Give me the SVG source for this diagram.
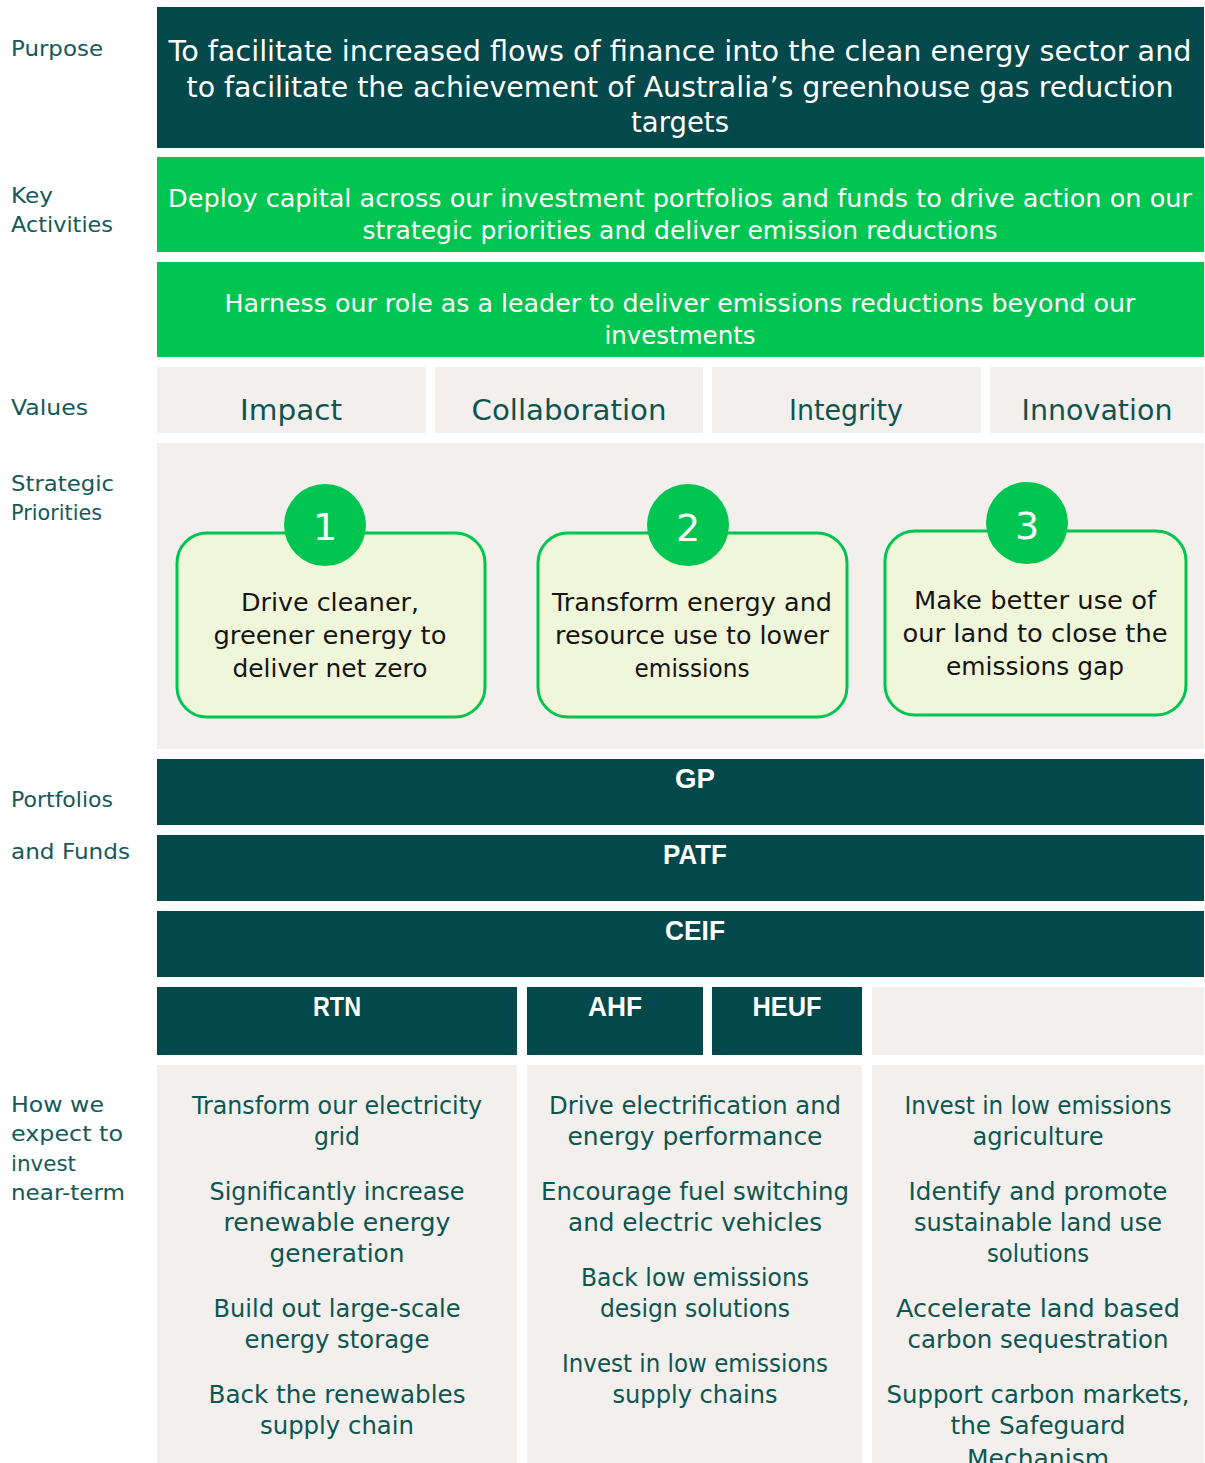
<svg xmlns="http://www.w3.org/2000/svg" width="1205" height="1463" viewBox="0 0 1205 1463">
  <style>
    text { font-family: "DejaVu Sans", "Liberation Sans", sans-serif; }
    .dark { fill: #03484A; }
    .green { fill: #00C551; }
    .pale { fill: #F2EFEC; }
    .side { fill: #15595A; font-size: 22px; }
    .white { fill: #FFFFFF; text-anchor: middle; }
    .purpose { font-size: 29px; }
    .activity { font-size: 25px; }
    .value { fill: #0E5450; font-size: 28px; text-anchor: middle; }
    .card { fill: #F0F6DA; stroke: #00C551; stroke-width: 3; }
    .cardtext { fill: #151515; font-size: 25px; text-anchor: middle; }
    .num { fill: #FFFFFF; font-size: 38px; text-anchor: middle; }
    .fund { fill: #FFFFFF; font-family: "Liberation Sans", "DejaVu Sans", sans-serif; font-weight: bold; font-size: 28px; text-anchor: middle; }
    .invest { fill: #0C5652; font-size: 25px; text-anchor: middle; }
  </style>

  <rect width="1205" height="1463" fill="#FFFFFF"/>

  <!-- Row labels -->
  <g id="labels">
    <text class="side" x="11" y="56" textLength="92" lengthAdjust="spacingAndGlyphs">Purpose</text>
    <text class="side" x="11" y="203" textLength="42" lengthAdjust="spacingAndGlyphs">Key</text>
    <text class="side" x="11" y="232" textLength="102" lengthAdjust="spacingAndGlyphs">Activities</text>
    <text class="side" x="11" y="415" textLength="77" lengthAdjust="spacingAndGlyphs">Values</text>
    <text class="side" x="11" y="491" textLength="103" lengthAdjust="spacingAndGlyphs">Strategic</text>
    <text class="side" x="11" y="520" textLength="91" lengthAdjust="spacingAndGlyphs">Priorities</text>
    <text class="side" x="11" y="807" textLength="102" lengthAdjust="spacingAndGlyphs">Portfolios</text>
    <text class="side" x="11" y="859" textLength="119" lengthAdjust="spacingAndGlyphs">and Funds</text>
    <text class="side" x="11" y="1112" textLength="93" lengthAdjust="spacingAndGlyphs">How we</text>
    <text class="side" x="11" y="1141" textLength="112" lengthAdjust="spacingAndGlyphs">expect to</text>
    <text class="side" x="11" y="1171" textLength="65" lengthAdjust="spacingAndGlyphs">invest</text>
    <text class="side" x="11" y="1200" textLength="114" lengthAdjust="spacingAndGlyphs">near-term</text>
  </g>

  <!-- Purpose -->
  <g id="purpose">
    <rect class="dark" x="157" y="7" width="1047" height="141"/>
    <text class="white purpose" x="680" y="61" textLength="1023" lengthAdjust="spacingAndGlyphs">To facilitate increased flows of finance into the clean energy sector and</text>
    <text class="white purpose" x="680" y="97" textLength="987" lengthAdjust="spacingAndGlyphs">to facilitate the achievement of Australia’s greenhouse gas reduction</text>
    <text class="white purpose" x="680" y="132" textLength="98" lengthAdjust="spacingAndGlyphs">targets</text>
  </g>

  <!-- Key activities -->
  <g id="activity-deploy">
    <rect class="green" x="157" y="157" width="1047" height="95"/>
    <text class="white activity" x="680" y="207" textLength="1024" lengthAdjust="spacingAndGlyphs">Deploy capital across our investment portfolios and funds to drive action on our</text>
    <text class="white activity" x="680" y="239" textLength="635" lengthAdjust="spacingAndGlyphs">strategic priorities and deliver emission reductions</text>
  </g>
  <g id="activity-lead">
    <rect class="green" x="157" y="262" width="1047" height="95"/>
    <text class="white activity" x="680" y="312" textLength="911" lengthAdjust="spacingAndGlyphs">Harness our role as a leader to deliver emissions reductions beyond our</text>
    <text class="white activity" x="680" y="344" textLength="151" lengthAdjust="spacingAndGlyphs">investments</text>
  </g>

  <!-- Values -->
  <g id="value-impact">
    <rect class="pale" x="157" y="367" width="269" height="66"/>
    <text class="value" x="291" y="420" textLength="102" lengthAdjust="spacingAndGlyphs">Impact</text>
  </g>
  <g id="value-collaboration">
    <rect class="pale" x="435" y="367" width="268" height="66"/>
    <text class="value" x="569" y="420" textLength="195" lengthAdjust="spacingAndGlyphs">Collaboration</text>
  </g>
  <g id="value-integrity">
    <rect class="pale" x="712" y="367" width="269" height="66"/>
    <text class="value" x="846" y="420" textLength="114" lengthAdjust="spacingAndGlyphs">Integrity</text>
  </g>
  <g id="value-innovation">
    <rect class="pale" x="990" y="367" width="214" height="66"/>
    <text class="value" x="1097" y="420" textLength="151" lengthAdjust="spacingAndGlyphs">Innovation</text>
  </g>

  <!-- Strategic priorities -->
  <g id="priorities">
    <rect class="pale" x="157" y="443" width="1047" height="306"/>
  </g>
  <g id="priority-1">
    <rect class="card" x="177" y="533" width="308" height="184" rx="30"/>
    <circle class="green" cx="325" cy="525" r="41"/>
    <text class="num" x="325" y="540">1</text>
    <text class="cardtext" x="330" y="611" textLength="178" lengthAdjust="spacingAndGlyphs">Drive cleaner,</text>
    <text class="cardtext" x="330" y="644" textLength="233" lengthAdjust="spacingAndGlyphs">greener energy to</text>
    <text class="cardtext" x="330" y="677" textLength="195" lengthAdjust="spacingAndGlyphs">deliver net zero</text>
  </g>
  <g id="priority-2">
    <rect class="card" x="538" y="533" width="309" height="184" rx="30"/>
    <circle class="green" cx="688" cy="525" r="41"/>
    <text class="num" x="688" y="541">2</text>
    <text class="cardtext" x="692" y="611" textLength="280" lengthAdjust="spacingAndGlyphs">Transform energy and</text>
    <text class="cardtext" x="692" y="644" textLength="274" lengthAdjust="spacingAndGlyphs">resource use to lower</text>
    <text class="cardtext" x="692" y="677" textLength="115" lengthAdjust="spacingAndGlyphs">emissions</text>
  </g>
  <g id="priority-3">
    <rect class="card" x="885" y="531" width="301" height="184" rx="30"/>
    <circle class="green" cx="1027" cy="523" r="41"/>
    <text class="num" x="1027" y="539">3</text>
    <text class="cardtext" x="1035" y="609" textLength="242" lengthAdjust="spacingAndGlyphs">Make better use of</text>
    <text class="cardtext" x="1035" y="642" textLength="265" lengthAdjust="spacingAndGlyphs">our land to close the</text>
    <text class="cardtext" x="1035" y="675" textLength="178" lengthAdjust="spacingAndGlyphs">emissions gap</text>
  </g>

  <!-- Portfolios and funds -->
  <g id="fund-gp">
    <rect class="dark" x="157" y="759" width="1047" height="66"/>
    <text class="fund" x="695" y="788" textLength="40" lengthAdjust="spacingAndGlyphs">GP</text>
  </g>
  <g id="fund-patf">
    <rect class="dark" x="157" y="835" width="1047" height="66"/>
    <text class="fund" x="695" y="864" textLength="64" lengthAdjust="spacingAndGlyphs">PATF</text>
  </g>
  <g id="fund-ceif">
    <rect class="dark" x="157" y="911" width="1047" height="66"/>
    <text class="fund" x="695" y="940" textLength="60" lengthAdjust="spacingAndGlyphs">CEIF</text>
  </g>
  <g id="fund-rtn">
    <rect class="dark" x="157" y="987" width="360" height="68"/>
    <text class="fund" x="337" y="1016" textLength="48" lengthAdjust="spacingAndGlyphs">RTN</text>
  </g>
  <g id="fund-ahf">
    <rect class="dark" x="527" y="987" width="176" height="68"/>
    <text class="fund" x="615" y="1016" textLength="54" lengthAdjust="spacingAndGlyphs">AHF</text>
  </g>
  <g id="fund-heuf">
    <rect class="dark" x="712" y="987" width="150" height="68"/>
    <text class="fund" x="787" y="1016" textLength="69" lengthAdjust="spacingAndGlyphs">HEUF</text>
  </g>
  <g id="fund-blank">
    <rect class="pale" x="872" y="987" width="332" height="68"/>
  </g>

  <!-- Near-term investment focus -->
  <g id="invest-energy">
    <rect class="pale" x="157" y="1065" width="360" height="398"/>
    <text class="invest" x="337" y="1114" textLength="290" lengthAdjust="spacingAndGlyphs">Transform our electricity</text>
    <text class="invest" x="337" y="1145" textLength="46" lengthAdjust="spacingAndGlyphs">grid</text>
    <text class="invest" x="337" y="1200" textLength="255" lengthAdjust="spacingAndGlyphs">Significantly increase</text>
    <text class="invest" x="337" y="1231" textLength="227" lengthAdjust="spacingAndGlyphs">renewable energy</text>
    <text class="invest" x="337" y="1262" textLength="135" lengthAdjust="spacingAndGlyphs">generation</text>
    <text class="invest" x="337" y="1317" textLength="247" lengthAdjust="spacingAndGlyphs">Build out large-scale</text>
    <text class="invest" x="337" y="1348" textLength="185" lengthAdjust="spacingAndGlyphs">energy storage</text>
    <text class="invest" x="337" y="1403" textLength="257" lengthAdjust="spacingAndGlyphs">Back the renewables</text>
    <text class="invest" x="337" y="1434" textLength="154" lengthAdjust="spacingAndGlyphs">supply chain</text>
  </g>
  <g id="invest-resources">
    <rect class="pale" x="527" y="1065" width="335" height="398"/>
    <text class="invest" x="695" y="1114" textLength="292" lengthAdjust="spacingAndGlyphs">Drive electrification and</text>
    <text class="invest" x="695" y="1145" textLength="255" lengthAdjust="spacingAndGlyphs">energy performance</text>
    <text class="invest" x="695" y="1200" textLength="308" lengthAdjust="spacingAndGlyphs">Encourage fuel switching</text>
    <text class="invest" x="695" y="1231" textLength="254" lengthAdjust="spacingAndGlyphs">and electric vehicles</text>
    <text class="invest" x="695" y="1286" textLength="228" lengthAdjust="spacingAndGlyphs">Back low emissions</text>
    <text class="invest" x="695" y="1317" textLength="190" lengthAdjust="spacingAndGlyphs">design solutions</text>
    <text class="invest" x="695" y="1372" textLength="266" lengthAdjust="spacingAndGlyphs">Invest in low emissions</text>
    <text class="invest" x="695" y="1403" textLength="165" lengthAdjust="spacingAndGlyphs">supply chains</text>
  </g>
  <g id="invest-land">
    <rect class="pale" x="872" y="1065" width="332" height="398"/>
    <text class="invest" x="1038" y="1114" textLength="267" lengthAdjust="spacingAndGlyphs">Invest in low emissions</text>
    <text class="invest" x="1038" y="1145" textLength="131" lengthAdjust="spacingAndGlyphs">agriculture</text>
    <text class="invest" x="1038" y="1200" textLength="259" lengthAdjust="spacingAndGlyphs">Identify and promote</text>
    <text class="invest" x="1038" y="1231" textLength="248" lengthAdjust="spacingAndGlyphs">sustainable land use</text>
    <text class="invest" x="1038" y="1262" textLength="102" lengthAdjust="spacingAndGlyphs">solutions</text>
    <text class="invest" x="1038" y="1317" textLength="284" lengthAdjust="spacingAndGlyphs">Accelerate land based</text>
    <text class="invest" x="1038" y="1348" textLength="261" lengthAdjust="spacingAndGlyphs">carbon sequestration</text>
    <text class="invest" x="1038" y="1403" textLength="303" lengthAdjust="spacingAndGlyphs">Support carbon markets,</text>
    <text class="invest" x="1038" y="1434" textLength="175" lengthAdjust="spacingAndGlyphs">the Safeguard</text>
    <text class="invest" x="1038" y="1467" textLength="142" lengthAdjust="spacingAndGlyphs">Mechanism</text>
  </g>
</svg>
